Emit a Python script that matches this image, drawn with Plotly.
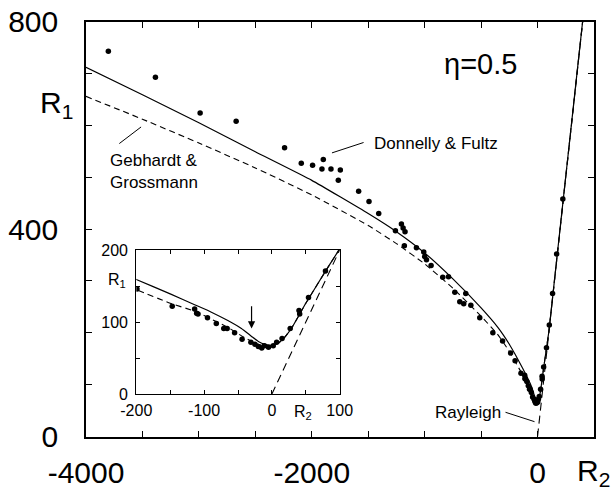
import plotly.graph_objects as go

# ---------------- data ----------------
# Donnelly & Fultz experimental points (R2, R1)
df_R2 = [-3802, -3385, -2989, -2670, -2241, -2093, -1993, -1898, -1910, -1830,
         -1747, -1765, -1585, -1493, -1407, -1259, -1206, -1191, -1174, -1180,
         -1073, -1008, -1000, -984, -943, -840, -789, -733, -636, -689,
         -654, -591, -512, -396, -310, -239,
         -199, -147, -114, -111, -109, -95, -82, -71, -66, -55,
         -44, -31, -25, -20, -15, -11, -5, 2, 7, 15,
         27, 40, 41, 54, 79, 104, 133, 169, 224]
df_R1 = [743, 693, 624, 608, 557, 527, 523, 534, 516, 516,
         514, 494, 473, 453, 430, 397, 410, 402, 395, 368,
         364, 356, 347, 341, 330, 307, 308, 278, 276, 260,
         256, 253, 229, 200, 184, 161,
         146, 122, 118, 112, 111, 106, 98, 91, 91, 85,
         76, 72, 69, 66, 64, 67, 65, 67, 72, 77,
         91, 116, 111, 134, 171, 215, 276, 352, 458]

# solid curve
solid_R2 = [-4000, -3500, -3000, -2500, -2000, -1500, -1250, -1000, -750, -500,
            -350, -250, -200, -150, -114, -90, -65, -45, -30, -20, -10, 0,
            10, 20, 30, 50, 80, 100, 150, 200, 300, 420]
solid_R1 = [712, 659, 605, 549, 494, 430, 395, 354, 304, 248,
            210, 178, 159, 139, 124, 114, 102, 91, 80, 73, 69, 67.5,
            71, 80, 93, 126, 172, 202, 302, 402, 602, 842]

# Gebhardt & Grossmann (dashed)
gg_R2 = [-4000, -3500, -3000, -2500, -2000, -1500, -1250, -1000, -750, -500,
         -350, -250, -200, -150, -114, -65, -40, -20, -10, 0,
         10, 20, 30, 50, 80, 100, 150, 200, 300, 420]
gg_R1 = [656, 612, 566, 518, 466, 407, 372, 333, 286, 232,
         196, 164, 145, 126, 115, 92.6, 78, 69, 66.5, 66.5,
         71, 80, 93, 126, 172, 202, 302, 402, 602, 842]

# Rayleigh line
ray_R2 = [0, 420]
ray_R1 = [0, 840]

# arrow in inset (R2, R1 from -> to)
arrow_R2 = -30
arrow_R1_from = 124
arrow_R1_to = 91

FONT = "Liberation Sans, Arial, sans-serif"

fig = go.Figure()

for xa, ya in [("x", "y"), ("x2", "y2")]:
    fig.add_trace(go.Scatter(x=ray_R2, y=ray_R1, mode="lines", xaxis=xa, yaxis=ya,
                             line=dict(color="black", width=1.1, dash="8px,5px"),
                             showlegend=False, hoverinfo="skip"))
    fig.add_trace(go.Scatter(x=gg_R2, y=gg_R1, mode="lines", xaxis=xa, yaxis=ya,
                             line=dict(color="black", width=1.1, dash="6px,4px", shape="spline", smoothing=0.4),
                             showlegend=False, hoverinfo="skip"))
    fig.add_trace(go.Scatter(x=solid_R2, y=solid_R1, mode="lines", xaxis=xa, yaxis=ya,
                             line=dict(color="black", width=1.2, shape="spline", smoothing=0.4),
                             showlegend=False, hoverinfo="skip"))
    fig.add_trace(go.Scatter(x=df_R2, y=df_R1, mode="markers", xaxis=xa, yaxis=ya,
                             marker=dict(color="black", size=5.5),
                             showlegend=False, hoverinfo="skip"))

main_xt = list(range(-4000, 501, 500))
main_xl = ["-4000" if v == -4000 else "-2000" if v == -2000 else "0" if v == 0 else "" for v in main_xt]
main_yt = list(range(0, 801, 100))
main_yl = [str(v) if v in (0, 400, 800) else "" for v in main_yt]

ins_xt = list(range(-200, 101, 50))
ins_xl = [str(v) if v % 100 == 0 else "" for v in ins_xt]
ins_yt = list(range(0, 201, 50))
ins_yl = [str(v) if v % 100 == 0 else "" for v in ins_yt]

axis_common = dict(showgrid=False, zeroline=False, showline=True, linecolor="black",
                   mirror="ticks", ticks="inside", tickcolor="black", automargin=False)

fig.update_layout(
    template="none",
    width=611, height=488,
    margin=dict(l=0, r=0, t=0, b=0, pad=0),
    paper_bgcolor="white", plot_bgcolor="white",
    font=dict(family=FONT, color="black"),
    xaxis=dict(domain=[86 / 611, 594 / 611], range=[-4000, 500], anchor="y",
               tickvals=main_xt, ticktext=main_xl, ticklen=6, tickwidth=1.2, linewidth=1.6,
               tickfont=dict(size=30, family=FONT), ticklabelstandoff=9, **axis_common),
    yaxis=dict(domain=[1 - 436.5 / 488, 1 - 21.7 / 488], range=[0, 800], anchor="x",
               tickvals=main_yt, ticktext=main_yl, ticklen=6, tickwidth=1.2, linewidth=1.6,
               tickfont=dict(size=30, family=FONT), ticklabelstandoff=20, **axis_common),
    xaxis2=dict(domain=[136.3 / 611, 339.7 / 611], range=[-200, 100], anchor="y2",
                tickvals=ins_xt, ticktext=ins_xl, ticklen=4, tickwidth=1, linewidth=1.3,
                tickfont=dict(size=16, family=FONT), ticklabelstandoff=2, **axis_common),
    yaxis2=dict(domain=[1 - 394 / 488, 1 - 250 / 488], range=[0, 200], anchor="x2",
                tickvals=ins_yt, ticktext=ins_yl, ticklen=4, tickwidth=1, linewidth=1.3,
                tickfont=dict(size=16, family=FONT), ticklabelstandoff=4, **axis_common),
)

ann = []
# main labels
ann.append(dict(xref="paper", yref="paper", x=38 / 611, y=1 - 104 / 488, xanchor="left", yanchor="middle",
                text="R<sub>1</sub>", showarrow=False, font=dict(size=30, family=FONT)))
ann.append(dict(xref="paper", yref="paper", x=575 / 611, y=1 - 472 / 488, xanchor="left", yanchor="middle",
                text="R<sub>2</sub>", showarrow=False, font=dict(size=30, family=FONT)))
ann.append(dict(xref="x", yref="y", x=-505, y=718, xanchor="center", yanchor="middle",
                text="η=0.5", showarrow=False, font=dict(size=29, family=FONT)))
ann.append(dict(xref="x", yref="y", x=-3808, y=512, xanchor="left", yanchor="middle", align="left",
                text="Gebhardt &amp;<br>Grossmann", showarrow=False, font=dict(size=17, family=FONT)))
ann.append(dict(xref="x", yref="y", x=-1466, y=565, xanchor="left", yanchor="middle",
                text="Donnelly &amp; Fultz", showarrow=False, font=dict(size=17, family=FONT)))
ann.append(dict(xref="x", yref="y", x=-616, y=46, xanchor="center", yanchor="middle",
                text="Rayleigh", showarrow=False, font=dict(size=17, family=FONT)))
# inset labels
ann.append(dict(xref="paper", yref="paper", x=106 / 611, y=1 - 280 / 488, xanchor="left", yanchor="middle",
                text="R<sub>1</sub>", showarrow=False, font=dict(size=16, family=FONT)))
ann.append(dict(xref="paper", yref="paper", x=292 / 611, y=1 - 412 / 488, xanchor="left", yanchor="middle",
                text="R<sub>2</sub>", showarrow=False, font=dict(size=16, family=FONT)))
# arrow in inset
ann.append(dict(xref="x2", yref="y2", axref="x2", ayref="y2", x=arrow_R2, y=arrow_R1_to,
                ax=arrow_R2, ay=arrow_R1_from, showarrow=True, arrowhead=2, arrowsize=1.2,
                arrowwidth=1.2, arrowcolor="black", text=""))
fig.update_layout(annotations=ann)

# leader lines for labels
leaders = [(-3705, 565, -3512, 597), (-1821, 547, -1541, 567), (-284, 46.7, -27, 28.6)]
for x0, y0, x1, y1 in leaders:
    fig.add_shape(type="line", xref="x", yref="y", x0=x0, y0=y0, x1=x1, y1=y1,
                  line=dict(color="black", width=1))

fig.write_html("out.html")
